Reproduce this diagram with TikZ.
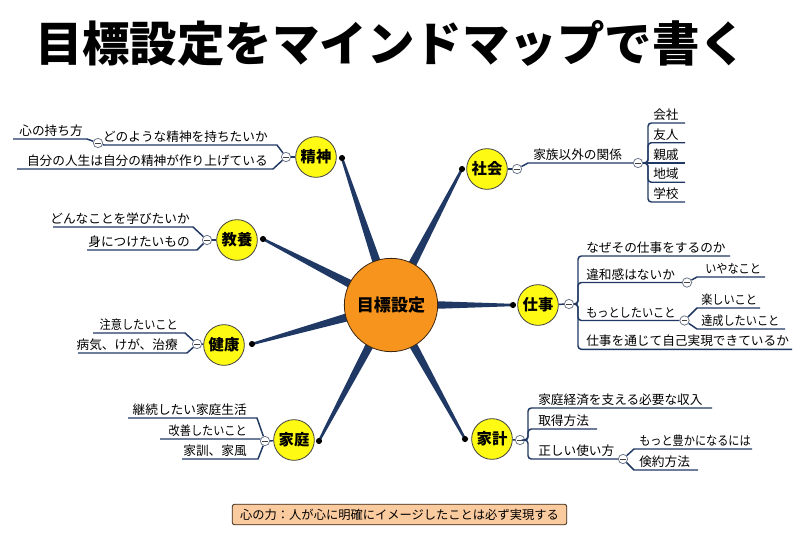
\documentclass[tikz,border=0pt]{standalone}
\usepackage{fontspec}
\setmainfont{Noto Sans CJK JP}
\newfontfamily\narrowfont[FakeStretch=0.88]{Noto Sans CJK JP}
\usetikzlibrary{calc}
\definecolor{navy}{RGB}{31,56,100}
\definecolor{yel}{RGB}{255,250,20}
\definecolor{org}{RGB}{247,148,29}
\definecolor{peach}{RGB}{251,203,160}
\definecolor{btn}{RGB}{110,120,140}
\newcommand\spoketo[1]{\fill[navy] ($(cc)!4pt!90:(#1)$) -- ($(#1)!0.9pt!-90:(cc)$) -- ($(#1)!0.9pt!90:(cc)$) -- ($(cc)!4pt!-90:(#1)$) -- cycle;}
\begin{document}
\begin{tikzpicture}[x=0.75pt,y=-0.75pt,
  ctr/.style={circle,draw=black!70!brown,line width=0.6pt,fill=org,minimum size=70pt,inner sep=0pt,font=\fontsize{12.8pt}{14pt}\selectfont\bfseries},
  topic/.style={circle,draw=black!75,line width=0.6pt,fill=yel,minimum size=30.5pt,inner sep=0pt,font=\fontsize{11.5pt}{13pt}\selectfont\bfseries},
  mbtn/.style={circle,draw=btn,fill=white,line width=0.6pt,minimum size=7pt,inner sep=0pt,
    path picture={\draw[line width=0.6pt,black!75] ([xshift=-2pt]path picture bounding box.center) -- ([xshift=2pt]path picture bounding box.center);}},
  br/.style={draw=navy,line width=1.1pt},
  rc/.style={rounded corners=2.5pt},
  lbl/.style={font=\fontsize{9.5pt}{11pt}\selectfont,inner sep=0pt,anchor=base west},
  lblr/.style={font=\fontsize{9.5pt}{11pt}\selectfont,inner sep=0pt,anchor=base east},
  nar/.style={font=\narrowfont\fontsize{9.5pt}{11pt}\selectfont},
  dotc/.style={fill=black},
  foot/.style={draw=black!70!brown,line width=0.6pt,fill=peach,rounded corners=2pt,minimum width=251pt,minimum height=15.5pt,inner sep=0pt,font=\fontsize{9.2pt}{11pt}\selectfont}
]
\useasboundingbox (0,0) rectangle (800,540);
\fill[white] (0,0) rectangle (800,540);

% title
\node[font=\fontsize{35.6pt}{40pt}\selectfont\bfseries] (title) at (391,43) {目標設定をマインドマップで書く};

% spokes
\coordinate (cc) at (391,305);
\coordinate (d1) at (342,158);
\coordinate (d2) at (462,169);
\coordinate (d3) at (263,239);
\coordinate (d4) at (513,305);
\coordinate (d5) at (252,344);
\coordinate (d6) at (319,441);
\coordinate (d7) at (465,439);
\spoketo{d1}\spoketo{d2}\spoketo{d3}\spoketo{d4}\spoketo{d5}\spoketo{d6}\spoketo{d7}

\node[ctr] (c) at (cc) {目標設定};

% main topics
\node[topic] (s1) at (316,157) {精神};
\node[topic] (s2) at (487,169) {社会};
\node[topic] (s3) at (237,240) {教養};
\node[topic] (s4) at (538,305) {仕事};
\node[topic] (s5) at (224,345) {健康};
\node[topic] (s6) at (294,440) {家庭};
\node[topic] (s7) at (492,439) {家計};
\foreach \d in {d1,d2,d3,d4,d5,d6,d7} \fill[dotc] (\d) circle (2.3pt);

% buttons
\node[mbtn] (m1) at (286,157) {};
\node[mbtn] (m11) at (98,143) {};
\node[mbtn] (m2) at (517,169) {};
\node[mbtn] (m21) at (638,163) {};
\node[mbtn] (m3) at (207,240) {};
\node[mbtn] (m4) at (569,304) {};
\node[mbtn] (m41) at (687,282.5) {};
\node[mbtn] (m42) at (684.5,320.5) {};
\node[mbtn] (m5) at (197,344) {};
\node[mbtn] (m6) at (265,441) {};
\node[mbtn] (m7) at (520,440) {};
\node[mbtn] (m71) at (623,459) {};

% 精神
\draw[br] (s1) -- (m1);
\draw[br] (m1) -- (277,145) -- (104,145) -- (m11);
\draw[br] (m11) -- (87,139) -- (13,139);
\draw[br] (m1) -- (273,169) -- (17,169);
\node[lblr] (t11) at (268,141.5) {どのような精神を持ちたいか};
\node[lblr] (t111) at (83,135.5) {心の持ち方};
\node[lblr] (t12) at (268,165.5) {自分の人生は自分の精神が作り上げている};

% 社会
\draw[br] (s2) -- (m2);
\draw[br] (m2) -- (528,163) -- (m21);
\coordinate (k1) at (685,123);
\coordinate (k2) at (685,142.75);
\coordinate (k3) at (685,163);
\coordinate (k4) at (685,182.25);
\coordinate (k5) at (685,202);
\draw[br,rc] (m21.east) -- (648,163) |- (k1);
\draw[br,rc] (m21.east) -- (648,163) |- (k2);
\draw[br] (m21.east) -- (k3);
\draw[br,rc] (m21.east) -- (648,163) |- (k4);
\draw[br,rc] (m21.east) -- (648,163) |- (k5);
\node[lbl] (t21) at (533,159.5) {家族以外の関係};
\node[lbl] (t211) at (653,119.5) {会社};
\node[lbl] (t212) at (653,139.25) {友人};
\node[lbl] (t213) at (653,159.5) {親戚};
\node[lbl] (t214) at (653,178.75) {地域};
\node[lbl] (t215) at (653,198.5) {学校};

% 教養
\draw[br] (s3) -- (m3);
\draw[br] (m3) -- (193,227) -- (53,227);
\draw[br] (m3) -- (197,250) -- (87,250);
\node[lblr] (t31) at (190,223.5) {どんなことを学びたいか};
\node[lblr] (t32) at (190,246.5) {身につけたいもの};

% 仕事
\draw[br] (s4) -- (m4);
\coordinate (j1) at (730,256);
\coordinate (j4) at (792,349.3);
\draw[br,rc] (m4.east) -- (578,304) |- (j1);
\draw[br,rc] (m4.east) -- (578,304) |- (m41.west);
\draw[br,rc] (m4.east) -- (578,304) |- (m42.west);
\draw[br,rc] (m4.east) -- (578,304) |- (j4);
\draw[br] (m41) -- (697,277) -- (765,277);
\draw[br] (m42) -- (697,308) -- (760,308);
\draw[br] (m42) -- (697,329) -- (785,329);
\node[lbl] (t41) at (586,252.5) {なぜその仕事をするのか};
\node[lbl] (t42) at (586,279) {違和感はないか};
\node[lbl,nar] (t421) at (705,273.5) {いやなこと};
\node[lbl,nar] (t43) at (586,317) {もっとしたいこと};
\node[lbl,nar] (t431) at (701,304.5) {楽しいこと};
\node[lbl,nar] (t432) at (701,325.5) {達成したいこと};
\node[lbl] (t44) at (586,345.8) {仕事を通じて自己実現できているか};

% 健康
\draw[br] (s5) -- (m5);
\draw[br] (m5) -- (185,333) -- (93,333);
\draw[br] (m5) -- (187,353) -- (78,353);
\node[lblr,nar] (t51) at (178,329.5) {注意したいこと};
\node[lblr] (t52) at (178,349.5) {病気、けが、治療};

% 家庭
\draw[br] (s6) -- (m6);
\draw[br] (m6) -- (257,418) -- (128,418);
\draw[br] (m6) -- (260,439) -- (160,439);
\draw[br] (m6) -- (258,459) -- (182,459);
\node[lblr] (t61) at (247,414.5) {継続したい家庭生活};
\node[lblr,nar] (t62) at (247,435.5) {改善したいこと};
\node[lblr] (t63) at (247,455.5) {家訓、家風};

% 家計
\draw[br] (s7) -- (m7);
\coordinate (h1) at (712,408);
\coordinate (h2) at (597,429);
\draw[br,rc] (m7.east) -- (528,440) |- (h1);
\draw[br,rc] (m7.east) -- (528,440) |- (h2);
\draw[br,rc] (m7.east) -- (528,440) |- (m71.west);
\draw[br] (m71) -- (634,449) -- (752,449);
\draw[br] (m71) -- (634,470) -- (698,470);
\node[lbl] (t71) at (538,404.5) {家庭経済を支える必要な収入};
\node[lbl] (t72) at (538,425.5) {取得方法};
\node[lbl] (t73) at (538,455.5) {正しい使い方};
\node[lbl,nar] (t731) at (639,445.5) {もっと豊かになるには};
\node[lbl] (t732) at (639,466.5) {倹約方法};

% footer
\node[foot] (f) at (399.5,514.5) {心の力：人が心に明確にイメージしたことは必ず実現する};
\end{tikzpicture}
\end{document}
